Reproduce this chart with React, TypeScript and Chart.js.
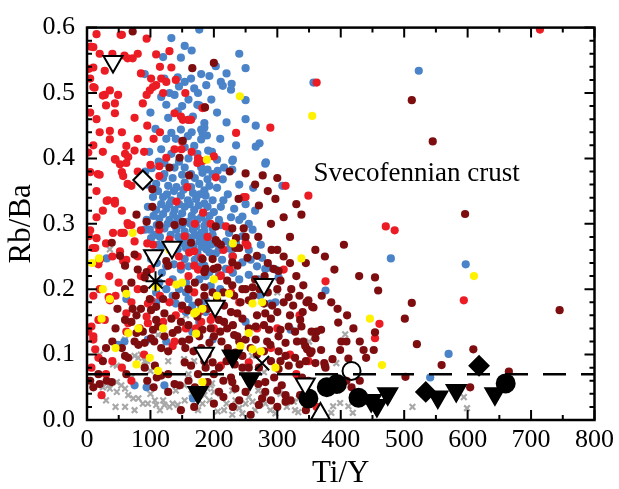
import React, { useEffect, useRef } from 'react';
import { Chart, registerables } from 'chart.js';

Chart.register(...registerables);

type Pt = [number, number];

// Axis ranges and tick spacing
const xRange: Pt = [0, 800];
const yRange: Pt = [0, 0.6];
const xMajorStep = 100;
const xMinorStep = 50;
const yMajorStep = 0.1;
const yMinorStep = 0.02;
const dashedLevel = 0.07;
const xTitle = 'Ti/Y';
const yTitle = 'Rb/Ba';
const crustLabel = 'Svecofennian crust';
const crustLabelAt: Pt = [357, 0.376];

// Svecofennian crust samples, by group
const redPts: Pt[] = [
  [53,0.589],[94,0.583],[10,0.570],[6,0.571],[59,0.557],[64,0.553],[72,0.553],[28,0.534],[5,0.522],[10,0.509],
  [10,0.539],[109,0.559],[130,0.564],[133,0.539],[101,0.522],[117,0.522],[125,0.517],[109,0.512],[104,0.509],[99,0.504],
  [94,0.497],[36,0.504],[28,0.497],[49,0.497],[44,0.484],[44,0.469],[88,0.484],[138,0.469],[148,0.464],[151,0.459],
  [164,0.459],[75,0.462],[36,0.442],[36,0.429],[62,0.419],[75,0.412],[60,0.407],[65,0.402],[44,0.399],[138,0.414],
  [182,0.477],[185,0.478],[3,0.537],[12,0.508],[25,0.496],[30,0.481],[2,0.409],[5,0.379],[17,0.376],[52,0.391],
  [55,0.379],[64,0.361],[70,0.358],[44,0.335],[44,0.331],[31,0.335],[64,0.301],[70,0.298],[41,0.286],[58,0.286],
  [5,0.29],[3,0.281],[55,0.589],[160,0.459],[235,0.439],[289,0.447],[200,0.403],[203,0.371],[149,0.414],[150,0.426],
  [125,0.401],[114,0.388],[250,0.341],[313,0.358],[349,0.343],[219,0.296],[158,0.356],[141,0.334],
  [362,0.516],[714,0.597],[471,0.296],[485,0.290],[376,0.212],[461,0.147],[454,0.125],[594,0.183],[349,0.09],[362,0.02],
  [45,0.398],[62,0.393],[20,0.375],[57,0.373],[33,0.336],[114,0.373],[13,0.263],[18,0.238],[54,0.286],[65,0.298],
  [75,0.273],[52,0.258],[57,0.243],[104,0.268],[114,0.291],[154,0.281],[161,0.256],[169,0.258],[174,0.393],[182,0.396],
  [130,0.276],[148,0.236],[169,0.236],[101,0.231],[130,0.211],[247,0.341],[183,0.317],[250,0.271],[253,0.267],[180,0.248],
  [211,0.221],[34,0.188],[36,0.183],[18,0.153],[7,0.143],[10,0.128],[10,0.123],[28,0.153],[65,0.148],[62,0.163],
  [94,0.158],[96,0.148],[62,0.135],[83,0.14],[13,0.108],[18,0.095],[7,0.08],[23,0.038],[138,0.12],[135,0.113],
  [156,0.14],[172,0.14],[96,0.178],[101,0.183],[169,0.195],[177,0.165],[20,0.245],[9,0.263],[15,0.278],[62,0.245],
  [2,0.135],[227,0.195],[268,0.14],[211,0.083],[255,0.088],[198,0.158],[195,0.153],
  [15,0.59],[20,0.56],[40,0.56],[80,0.56],[85,0.53],[115,0.54],[120,0.5],[140,0.52],[155,0.5],[5,0.47],
  [15,0.46],[20,0.44],[10,0.42],[25,0.41],[55,0.44],[80,0.43],[95,0.45],[105,0.43],[115,0.44],[90,0.41],
  [100,0.39],[80,0.38],[15,0.35],[25,0.32],[15,0.31],[55,0.32],[85,0.29],[95,0.27],[30,0.27],[40,0.25],
  [80,0.25],[35,0.22],[50,0.21],[20,0.2],[10,0.19],[45,0.19],[70,0.18],[80,0.2],[85,0.22],[115,0.19],
  [130,0.18],[140,0.16],[120,0.15],[150,0.17],[180,0.15],[200,0.14],[215,0.26],[230,0.25],[190,0.28],[195,0.3],
  [170,0.3],[175,0.4],[165,0.41],[210,0.22],[225,0.23],[240,0.18],[160,0.22],[175,0.23],[145,0.25],[30,0.07],
  [40,0.09],[55,0.08],[70,0.06],[90,0.1],[290,0.11],[320,0.1],[335,0.16],[310,0.23],[300,0.14],[330,0.07],
];

const bluePts: Pt[] = [
  [133,0.584],[154,0.572],[148,0.554],[177,0.597],[91,0.529],[122,0.522],[143,0.524],[154,0.517],[164,0.522],[180,0.529],
  [169,0.507],[188,0.512],[117,0.494],[125,0.482],[138,0.497],[143,0.472],[159,0.459],[167,0.464],[174,0.482],[128,0.462],
  [133,0.439],[148,0.444],[180,0.444],[185,0.454],[117,0.414],[133,0.407],[154,0.417],[169,0.419],[180,0.429],[159,0.434],
  [174,0.407],[203,0.541],[250,0.538],[193,0.526],[211,0.517],[214,0.511],[228,0.514],[227,0.505],[250,0.489],[177,0.481],
  [266,0.45],[185,0.447],[182,0.439],[189,0.435],[266,0.418],[272,0.423],[191,0.412],[197,0.41],[230,0.398],[205,0.398],
  [282,0.394],[357,0.516],[523,0.534],[479,0.247],[376,0.198],[597,0.238],[570,0.101],[541,0.065],
  [122,0.393],[138,0.386],[109,0.361],[128,0.358],[141,0.356],[154,0.363],[164,0.356],[177,0.361],[185,0.351],[104,0.341],
  [120,0.341],[133,0.336],[148,0.343],[159,0.336],[172,0.338],[185,0.331],[96,0.326],[109,0.321],[125,0.323],[138,0.321],
  [154,0.326],[169,0.321],[114,0.308],[130,0.306],[143,0.308],[159,0.303],[174,0.306],[188,0.303],[99,0.291],[122,0.293],
  [141,0.291],[154,0.288],[167,0.291],[180,0.286],[101,0.278],[148,0.276],[164,0.278],[177,0.273],[190,0.276],[107,0.256],
  [143,0.261],[156,0.263],[174,0.256],[188,0.261],[101,0.246],[154,0.246],[185,0.236],[91,0.291],[94,0.306],[122,0.376],
  [154,0.386],[164,0.376],[117,0.266],[180,0.386],[190,0.368],[31,0.247],
  [229,0.396],[216,0.386],[229,0.383],[206,0.381],[198,0.376],[190,0.383],[182,0.378],[281,0.392],[308,0.358],[214,0.368],
  [193,0.358],[187,0.343],[198,0.336],[190,0.326],[200,0.318],[211,0.326],[232,0.323],[245,0.311],[240,0.306],[208,0.306],
  [198,0.293],[185,0.288],[177,0.281],[185,0.271],[198,0.283],[211,0.298],[224,0.286],[219,0.273],[245,0.281],[261,0.291],
  [274,0.268],[229,0.251],[281,0.231],[287,0.233],[193,0.256],[182,0.246],[193,0.226],[208,0.221],[219,0.231],[245,0.241],
  [302,0.218],[62,0.185],[49,0.115],[96,0.123],[75,0.053],[94,0.05],[122,0.053],[167,0.033],[180,0.175],[19,0.245],
  [297,0.23],[135,0.215],[156,0.21],[177,0.215],[156,0.195],[135,0.19],[140,0.178],[166,0.175],[187,0.165],[156,0.165],
  [177,0.15],[166,0.135],[198,0.123],[125,0.12],[109,0.18],[109,0.195],[114,0.21],[148,0.23],[177,0.235],[203,0.255],
  [187,0.22],[250,0.15],[276,0.248],[273,0.19],[59,0.12],[289,0.178],[297,0.18],[321,0.138],[187,0.183],
  [112,0.35],[126,0.345],[137,0.35],[152,0.352],[167,0.347],[178,0.345],[117,0.33],[130,0.33],[145,0.33],[162,0.33],
  [176,0.328],[105,0.312],[120,0.315],[136,0.314],[150,0.316],[165,0.312],[180,0.31],[193,0.312],[110,0.298],[127,0.3],
  [138,0.3],[150,0.298],[163,0.3],[172,0.296],[185,0.297],[106,0.283],[115,0.28],[132,0.283],[144,0.28],[158,0.28],
  [170,0.283],[183,0.278],[112,0.268],[128,0.27],[138,0.268],[152,0.27],[168,0.265],[181,0.265],[195,0.268],[110,0.24],
  [125,0.235],[137,0.238],[160,0.235],[170,0.245],[200,0.27],[208,0.26],[213,0.245],[225,0.262],[235,0.27],[255,0.26],
  [258,0.245],[268,0.235],[230,0.225],[240,0.215],[255,0.222],[270,0.215],[195,0.205],[210,0.2],[145,0.2],[160,0.185],
  [125,0.2],[118,0.225],[145,0.395],[160,0.4],[120,0.37],[135,0.37],[150,0.375],[170,0.37],[140,0.43],[125,0.43],
  [165,0.44],[150,0.48],[160,0.49],[130,0.5],[145,0.51],[175,0.5],[205,0.47],[220,0.455],[210,0.43],[235,0.42],
  [250,0.46],[220,0.53],[240,0.56],[165,0.565],[120,0.555],[196,0.49],[100,0.47],[108,0.445],[98,0.41],[92,0.38],
  [95,0.36],[102,0.385],[113,0.395],[205,0.355],[222,0.345],[215,0.336],[227,0.31],[255,0.3],[265,0.32],[262,0.355],
  [240,0.36],[250,0.33],
];

const maroonPts: Pt[] = [
  [72,0.594],[166,0.538],[186,0.478],[200,0.546],[146,0.401],[161,0.374],[250,0.377],[277,0.374],[297,0.338],[271,0.328],
  [239,0.338],[338,0.314],[103,0.353],[78,0.314],[103,0.326],[114,0.298],[138,0.298],[235,0.278],[250,0.280],[291,0.26],
  [203,0.296],[203,0.275],[151,0.427],[512,0.489],[545,0.426],[596,0.315],[405,0.268],
  [429,0.22],[454,0.218],[459,0.198],[512,0.179],[501,0.155],[520,0.116],[559,0.084],[609,0.108],[745,0.168],
  [665,0.074],[604,0.05],[502,0.066],[341,0.206],[346,0.18],[355,0.173],[396,0.149],[362,0.135],[369,0.138],[338,0.143],
  [341,0.12],[347,0.108],[352,0.102],[369,0.107],[399,0.107],[387,0.093],[412,0.094],[401,0.12],[409,0.12],[436,0.107],
  [452,0.107],[454,0.134],[360,0.087],[374,0.087],[376,0.08],[430,0.06],[409,0.06],[417,0.05],
  [130,0.386],[94,0.303],[39,0.271],[75,0.253],[60,0.236],[125,0.243],[128,0.236],[94,0.226],[91,0.218],[151,0.303],
  [182,0.246],[185,0.203],[164,0.271],[206,0.271],[211,0.268],[229,0.293],[247,0.293],[234,0.263],[240,0.263],[268,0.251],
  [253,0.248],[198,0.246],[206,0.233],[200,0.231],[229,0.241],[237,0.236],[187,0.231],[185,0.226],[294,0.231],[302,0.228],
  [305,0.213],[250,0.2],[261,0.203],[221,0.213],[229,0.206],
  [60,0.153],[70,0.15],[78,0.133],[75,0.12],[81,0.115],[91,0.118],[101,0.125],[104,0.138],[112,0.143],[109,0.153],
  [122,0.163],[117,0.11],[128,0.105],[122,0.128],[135,0.133],[133,0.155],[148,0.15],[159,0.168],[174,0.158],[101,0.168],
  [109,0.173],[143,0.138],[161,0.123],[177,0.128],[65,0.095],[60,0.098],[91,0.08],[107,0.083],[18,0.07],[31,0.06],
  [39,0.058],[62,0.07],[117,0.068],[128,0.07],[138,0.055],[146,0.053],[128,0.043],[154,0.088],[164,0.083],[185,0.09],
  [148,0.015],[169,0.02],[185,0.19],
  [242,0.18],[255,0.183],[279,0.178],[292,0.175],[310,0.18],[318,0.188],[349,0.183],[357,0.172],[227,0.165],[237,0.163],
  [245,0.155],[268,0.16],[281,0.163],[216,0.15],[221,0.14],[266,0.143],[279,0.145],[287,0.138],[305,0.138],[318,0.143],
  [328,0.135],[336,0.153],[354,0.135],[360,0.125],[182,0.138],[200,0.128],[193,0.118],[232,0.13],[237,0.128],[240,0.12],
  [250,0.123],[266,0.123],[284,0.12],[289,0.115],[302,0.128],[313,0.118],[331,0.12],[344,0.113],[354,0.105],[279,0.105],
  [302,0.105],[313,0.098],[328,0.095],[234,0.103],[245,0.098],[198,0.088],[208,0.08],[245,0.08],[255,0.08],[271,0.08],
  [302,0.078],[318,0.083],[227,0.065],[229,0.058],[234,0.048],[208,0.043],[190,0.058],[281,0.058],[281,0.043],[307,0.053],
  [313,0.038],[321,0.03],[339,0.065],[349,0.06],[240,0.03],[250,0.043],[276,0.033],[271,0.023],[313,0.028],[336,0.038],
  [258,0.008],[187,0.08],[208,0.153],[216,0.175],[198,0.195],[375,0.083],
  [78,0.16],[72,0.17],[99,0.185],[88,0.135],[106,0.12],[52,0.251],
  [160,0.2],[170,0.21],[176,0.18],[190,0.17],[205,0.185],[215,0.195],[232,0.19],[245,0.2],[262,0.19],[272,0.2],
  [285,0.195],[300,0.2],[322,0.2],[335,0.19],[212,0.12],[222,0.11],[258,0.11],[268,0.1],[290,0.09],[305,0.09],
  [335,0.085],[345,0.09],[220,0.09],[233,0.085],[262,0.065],[270,0.055],[295,0.065],[300,0.045],[215,0.06],[200,0.07],
  [190,0.1],[180,0.11],[168,0.105],[155,0.11],[150,0.12],[160,0.145],[195,0.14],[210,0.135],[230,0.145],[255,0.14],
  [290,0.155],[300,0.165],[320,0.16],[325,0.175],[340,0.165],[310,0.25],[320,0.24],[330,0.22],[280,0.22],[265,0.215],
  [285,0.24],[300,0.26],[270,0.28],[320,0.28],[345,0.24],[360,0.26],[375,0.25],[390,0.23],[385,0.18],[370,0.19],
  [395,0.17],[410,0.16],[420,0.14],[430,0.12],[440,0.095],[120,0.185],[140,0.19],[150,0.175],[85,0.17],[90,0.2],
  [70,0.21],[80,0.23],[60,0.2],[48,0.17],[45,0.14],[40,0.12],[55,0.11],[30,0.11],[25,0.09],[5,0.06],
  [10,0.05],[20,0.055],[95,0.06],[105,0.05],[110,0.065],[160,0.06],[170,0.05],[175,0.07],[200,0.025],[215,0.035],
  [230,0.02],[290,0.03],[300,0.02],[345,0.015],[290,0.3],[310,0.31],[330,0.33],[265,0.36],[285,0.35],[300,0.37],
  [225,0.38],
];

const yellowPts: Pt[] = [
  [241,0.495],[189,0.398],[72,0.286],[355,0.465],[338,0.247],[610,0.22],[446,0.155],[465,0.084],[19,0.247],[141,0.207],
  [109,0.203],[62,0.193],[36,0.185],[23,0.155],[81,0.14],[65,0.133],[99,0.095],[112,0.075],[78,0.085],[182,0.058],
  [169,0.163],[224,0.193],[261,0.178],[276,0.18],[255,0.133],[242,0.113],[261,0.108],[274,0.105],[297,0.08],[182,0.17],
  [172,0.165],[172,0.132],[25,0.2],[45,0.11],[130,0.26],[200,0.215],[150,0.21],[205,0.19],[230,0.27],[120,0.14],
  [8,0.24],
];

const greyPts: Pt[] = [
  [407,0.131],[393,0.087],[399,0.026],[388,0.021],[412,0.021],[419,0.011],[385,0.011],[513,0.02],[594,0.035],[599,0.018],
  [333,0.012],[36,0.261],[60,0.123],[41,0.085],[47,0.083],[75,0.098],[81,0.095],[91,0.09],[34,0.053],[36,0.048],
  [47,0.058],[54,0.053],[60,0.048],[65,0.038],[73,0.033],[81,0.033],[88,0.025],[96,0.025],[107,0.03],[109,0.023],
  [120,0.03],[122,0.023],[130,0.02],[135,0.025],[143,0.023],[154,0.053],[154,0.03],[47,0.043],[112,0.13],[128,0.09],
  [300,0.195],[279,0.073],[195,0.053],[190,0.048],[200,0.043],[185,0.038],[193,0.03],[182,0.025],[234,0.03],[255,0.035],
  [261,0.028],[250,0.025],[279,0.033],[281,0.025],[216,0.015],[206,0.013],[240,0.018],[289,0.015],[297,0.01],[326,0.028],
  [334,0.033],[328,0.015],[229,0.008],[153,0.093],[169,0.09],[260,0.098],[197,0.056],[229,0.045],[344,0.035],[156,0.16],
  [20,0.1],[25,0.05],[30,0.03],[45,0.02],[60,0.02],[75,0.015],[100,0.04],[115,0.015],[140,0.045],[165,0.04],
  [175,0.015],[210,0.04],[220,0.025],[245,0.01],[265,0.015],[270,0.045],[305,0.04],[315,0.02],[100,0.075],[85,0.1],
  [95,0.09],[70,0.065],[160,0.07],[350,0.12],[370,0.05],[395,0.045],
];

// Reference samples (black symbols)
const openDownTri: Pt[] = [[41,0.548],[105,0.251],[134,0.264],[202,0.174],[279,0.207],[185,0.102],[344,0.055]];
const filledDownTri: Pt[] = [[175,0.042],[229,0.098],[257,0.063],[448,0.03],[457,0.022],[474,0.04],[553,0.035],[582,0.045],[643,0.04]];
const filledCircle: Pt[] = [[349,0.033],[378,0.05],[394,0.055],[428,0.034],[660,0.056]];
const openCircle: Pt[] = [[417,0.075]];
const openUpTri: Pt[] = [[368,0.009]];
const openDiamond: Pt[] = [[88,0.367]];
const filledDiamond: Pt[] = [[534,0.043],[618,0.083]];
const asterisk: Pt[] = [[108,0.212]];
const xMark: Pt[] = [[276,0.087]];

const FONT = '"Liberation Serif", "Times New Roman", Times, serif';
Chart.defaults.font.family = FONT;

const toXY = (pts: Pt[]) => pts.map(([x, y]) => ({ x, y }));

const dots = (pts: Pt[], color: string) => ({
  data: toXY(pts),
  pointStyle: 'circle',
  pointRadius: 4.1,
  pointBorderWidth: 0,
  pointBackgroundColor: color,
  pointBorderColor: color,
  showLine: false,
});

const symbols = (pts: Pt[], style: string, radius: number, fill: string, rotation = 0, border = 2) => ({
  data: toXY(pts),
  pointStyle: style,
  pointRadius: radius,
  pointRotation: rotation,
  pointBackgroundColor: fill,
  pointBorderColor: '#000',
  pointBorderWidth: border,
  showLine: false,
});

const frameAndLabels = {
  id: 'frameAndLabels',
  afterDatasetsDraw(chart: any) {
    const { ctx, chartArea: a, scales } = chart;
    const xs = scales.x;
    const ys = scales.y;
    ctx.save();
    ctx.strokeStyle = '#000';
    ctx.lineWidth = 2;
    ctx.beginPath();
    const nx = Math.round((xRange[1] - xRange[0]) / xMinorStep);
    for (let i = 0; i <= nx; i++) {
      const v = xRange[0] + i * xMinorStep;
      const px = xs.getPixelForValue(v);
      const len = Math.abs(v / xMajorStep - Math.round(v / xMajorStep)) < 1e-6 ? 10 : 5;
      ctx.moveTo(px, a.bottom);
      ctx.lineTo(px, a.bottom - len);
      ctx.moveTo(px, a.top);
      ctx.lineTo(px, a.top + len);
    }
    const ny = Math.round((yRange[1] - yRange[0]) / yMinorStep);
    for (let i = 0; i <= ny; i++) {
      const v = yRange[0] + i * yMinorStep;
      const py = ys.getPixelForValue(v);
      const len = Math.abs(v / yMajorStep - Math.round(v / yMajorStep)) < 1e-6 ? 10 : 5;
      ctx.moveTo(a.left, py);
      ctx.lineTo(a.left + len, py);
      ctx.moveTo(a.right, py);
      ctx.lineTo(a.right - len, py);
    }
    ctx.stroke();
    ctx.lineWidth = 2.5;
    ctx.strokeRect(a.left, a.top, a.right - a.left, a.bottom - a.top);

    ctx.fillStyle = '#000';
    ctx.font = `27px ${FONT}`;
    ctx.textAlign = 'left';
    ctx.textBaseline = 'middle';
    ctx.fillText(crustLabel, xs.getPixelForValue(crustLabelAt[0]), ys.getPixelForValue(crustLabelAt[1]));
    ctx.restore();
  },
};

export default function App() {
  const ref = useRef<HTMLCanvasElement | null>(null);

  useEffect(() => {
    if (!ref.current) return;
    const tickFont = { family: FONT, size: 26 };
    const titleFont = { family: FONT, size: 31, lineHeight: 1 };
    const chart = new Chart(ref.current, {
      type: 'scatter',
      data: {
        datasets: [
          symbols(openDownTri, 'triangle', 11, '#fff', 180),
          symbols(filledDownTri, 'triangle', 11, '#000', 180),
          symbols(filledCircle, 'circle', 9, '#000'),
          symbols(openCircle, 'circle', 9, 'rgba(255,255,255,0)'),
          symbols(openUpTri, 'triangle', 11, '#fff', 0),
          symbols(openDiamond, 'rectRot', 9.5, '#fff'),
          symbols(filledDiamond, 'rectRot', 9.5, '#000'),
          symbols(asterisk, 'star', 10, '#000', 0, 2),
          symbols(xMark, 'crossRot', 10, '#000', 0, 2),
          {
            type: 'line',
            data: [
              { x: xRange[0], y: dashedLevel },
              { x: xRange[1], y: dashedLevel },
            ],
            borderColor: '#000',
            borderWidth: 2.5,
            borderDash: [23, 15],
            pointRadius: 0,
            fill: false,
          } as any,
          dots(yellowPts, '#fff200'),
          dots(maroonPts, '#7d0d0f'),
          dots(redPts, '#ec1c24'),
          dots(bluePts, '#4a83c8'),
          {
            data: toXY(greyPts),
            pointStyle: 'crossRot',
            pointRadius: 4,
            pointBorderWidth: 2.2,
            pointBorderColor: '#a8a8a8',
            pointBackgroundColor: '#a8a8a8',
            showLine: false,
          },
        ] as any,
      },
      options: {
        animation: false,
        responsive: false,
        maintainAspectRatio: false,
        layout: { padding: { top: 21, right: 21, left: 0, bottom: 0 } },
        plugins: { legend: { display: false }, tooltip: { enabled: false } },
        scales: {
          x: {
            type: 'linear',
            min: xRange[0],
            max: xRange[1],
            afterFit: (s: any) => { s.height = 69; },
            grid: { display: false, drawTicks: false },
            border: { display: false },
            ticks: {
              stepSize: xMajorStep,
              color: '#000',
              padding: 5,
              maxRotation: 0,
              font: tickFont,
            },
            title: {
              display: true,
              text: xTitle,
              color: '#000',
              font: titleFont,
              padding: { top: 0, bottom: 0 },
            },
          },
          y: {
            type: 'linear',
            min: yRange[0],
            max: yRange[1],
            afterFit: (s: any) => { s.width = 87; },
            grid: { display: false, drawTicks: false },
            border: { display: false },
            ticks: {
              stepSize: yMajorStep,
              color: '#000',
              padding: 12,
              font: tickFont,
              callback: (v: any) => Number(v).toFixed(1),
            },
            title: {
              display: true,
              text: yTitle,
              color: '#000',
              font: titleFont,
              padding: { top: 6, bottom: 0 },
            },
          },
        },
      } as any,
      plugins: [frameAndLabels],
    });
    return () => chart.destroy();
  }, []);

  return (
    <div style={{ position: 'fixed', left: 0, top: 0, width: 619, height: 489, background: '#fff' }}>
      <canvas ref={ref} width={619} height={489} style={{ display: 'block' }} />
    </div>
  );
}
